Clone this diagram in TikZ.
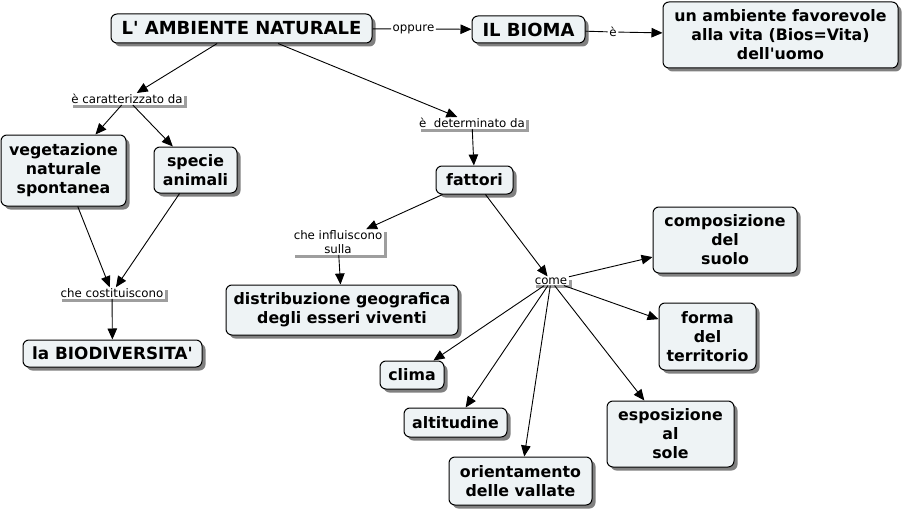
\documentclass[tikz,border=0pt]{standalone}
\usepackage{fontspec}
\setmainfont{DejaVu Sans}
\usetikzlibrary{shadows,arrows.meta}
\newcommand\squote{\XeTeXglyph\XeTeXcharglyph"0027\relax}
\definecolor{cfill}{HTML}{EEF3F5}
\begin{document}
\begin{tikzpicture}[x=1pt,y=-1pt,
 concept/.style={draw=black, line width=1pt, fill=cfill, rounded corners=6pt, align=center, inner sep=0pt,
   font=\bfseries\fontsize{15.8}{19}\selectfont,
   drop shadow={shadow xshift=3.5pt, shadow yshift=-3.5pt, fill=black!50, opacity=1}},
 linkph/.style={fill=white, inner xsep=1.5pt, inner ysep=1pt, align=center, font=\fontsize{11.8}{14}\selectfont,
   drop shadow={shadow xshift=3pt, shadow yshift=-3pt, fill=black!38, opacity=1}},
 plainph/.style={fill=white, inner sep=1.5pt, font=\fontsize{11.8}{14}\selectfont},
 conn/.style={line width=0.9pt, -{Triangle[length=11pt,width=9.5pt]}},
 seg/.style={line width=0.9pt}
]
\useasboundingbox (0,0) rectangle (905,511);

% concepts
\node[concept, minimum width=261pt, minimum height=29pt, font=\bfseries\fontsize{18}{21}\selectfont] (amb) at (241.5,28.5) {L\squote{} AMBIENTE NATURALE};
\node[concept, minimum width=113pt, minimum height=27pt, font=\bfseries\fontsize{18}{21}\selectfont] (bioma) at (528.5,29.5) {IL BIOMA};
\node[concept, minimum width=235pt, minimum height=66pt] (ambfav) at (780.5,35) {un ambiente favorevole\\alla vita (Bios=Vita)\\dell\squote{}uomo};
\node[concept, minimum width=125pt, minimum height=71pt] (veg) at (63.5,170.5) {vegetazione\\naturale\\spontanea};
\node[concept, minimum width=83pt, minimum height=46pt] (specie) at (195.5,170) {specie\\animali};
\node[concept, minimum width=179pt, minimum height=27pt, font=\bfseries\fontsize{16.8}{20}\selectfont] (biod) at (112.5,353.5) {la BIODIVERSITA\squote{}};
\node[concept, minimum width=77pt, minimum height=28pt] (fattori) at (474.5,180) {fattori};
\node[concept, minimum width=232pt, minimum height=50pt] (distr) at (342,310) {distribuzione geografica\\degli esseri viventi};
\node[concept, minimum width=144pt, minimum height=66pt] (compos) at (725,240) {composizione\\del\\suolo};
\node[concept, minimum width=97pt, minimum height=67pt] (forma) at (707.5,336.5) {forma\\del\\territorio};
\node[concept, minimum width=64pt, minimum height=28pt] (clima) at (412,375) {clima};
\node[concept, minimum width=103pt, minimum height=29pt] (altit) at (455.5,422.5) {altitudine};
\node[concept, minimum width=143pt, minimum height=48pt] (orient) at (520.5,481) {orientamento\\delle vallate};
\node[concept, minimum width=127pt, minimum height=66pt] (espos) at (670.5,434) {esposizione\\al\\sole};

% linking phrases
\node[plainph] (oppure) at (413.5,29) {oppure};
\node[plainph] (e1) at (613,32) {è};
\node[linkph] (caratt) at (127,99) {è caratterizzato da};
\node[linkph] (costit) at (112,293) {che costituiscono};
\node[linkph] (determ) at (472,123) {è\ \ determinato da};
\node[linkph] (influ) at (338,242) {che influiscono\\sulla};
\node[linkph] (come) at (551,281) {come};

% connectors
\draw[seg] (amb) -- (oppure);
\draw[conn] (oppure) -- (bioma);
\draw[seg] (bioma) -- (e1);
\draw[conn] (e1) -- (ambfav);
\draw[conn] (amb) -- (caratt);
\draw[conn] (caratt) -- (veg);
\draw[conn] (caratt) -- (specie);
\draw[conn] (veg) -- (costit);
\draw[conn] (specie) -- (costit);
\draw[conn] (costit) -- (biod);
\draw[conn] (amb) -- (determ);
\draw[conn] (determ) -- (fattori);
\draw[conn] (fattori) -- (influ);
\draw[conn] (fattori) -- (come);
\draw[conn] (influ) -- (distr);
\draw[conn] (come) -- (compos);
\draw[conn] (come) -- (forma);
\draw[conn] (come) -- (clima);
\draw[conn] (come) -- (altit);
\draw[conn] (come) -- (orient);
\draw[conn] (come) -- (espos);
\end{tikzpicture}
\end{document}
